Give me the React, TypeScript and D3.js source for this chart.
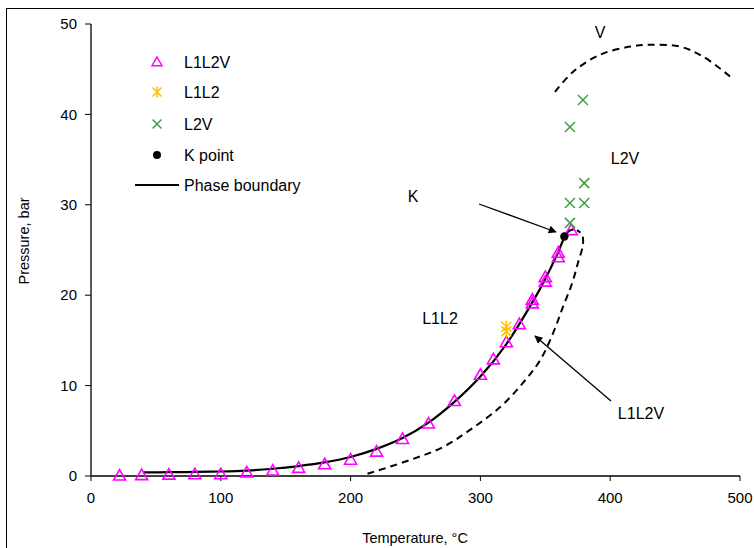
import React from "react";
import * as d3 from "d3";

const xTicks = [0, 100, 200, 300, 400, 500];
const yTicks = [0, 10, 20, 30, 40, 50];

const l1l2vPoints: [number, number][] = [
  [22, 0.05], [39, 0.1], [60, 0.15], [80, 0.2], [100, 0.2], [120, 0.4], [140, 0.6],
  [160, 0.9], [180, 1.3], [200, 1.8], [220, 2.7], [240, 4.1], [260, 5.8], [280, 8.3],
  [300, 11.2], [310, 12.9], [320, 14.8], [330, 16.8], [340, 19.1], [340, 19.5],
  [350, 21.5], [350, 22.0], [360, 24.2], [360, 24.7], [370, 27.2],
];
const l1l2Points: [number, number][] = [[320, 16.0], [320, 16.5]];
const l2vPoints: [number, number][] = [
  [379, 41.6], [369, 38.6], [380, 32.4], [369, 30.2], [380, 30.2], [369, 28.0],
];
const kPoint: [number, number][] = [[364.7, 26.5]];

const phaseBoundary: [number, number][] = [
  [40, 0.4], [60, 0.42], [80, 0.45], [100, 0.5], [120, 0.6], [140, 0.8], [160, 1.1],
  [180, 1.5], [200, 2.1], [220, 3.0], [240, 4.2], [260, 5.9], [280, 8.2], [300, 11.0],
  [320, 14.6], [340, 19.2], [350, 21.8], [360, 24.8], [365, 26.5], [368, 27.1], [372, 27.3],
];
const l1l2vBoundary: [number, number][] = [
  [213, 0.25], [245.8, 1.77], [271.2, 3.2], [292, 5.1], [315, 7.6], [332.8, 10.3],
  [346, 12.8], [356, 15.8], [363.6, 18.7], [370.6, 21.3], [375.2, 23.6], [379, 25.6],
  [378.3, 26.7], [374.4, 27.2],
];
const vBoundary: [number, number][] = [
  [357.5, 42.5], [371.3, 44.7], [392.1, 46.6], [415.3, 47.5], [430.7, 47.7], [453.8, 47.5],
  [471.5, 46.4], [492.3, 44.2],
];

const legendItems = ["L1L2V", "L1L2", "L2V", "K point", "Phase boundary"];

const FONT = "'Liberation Sans', Arial, sans-serif";
const MAGENTA = "#ff00ff";
const GOLD = "#ffc000";
const GREEN = "#3f9f3f";

export default function App() {
  const x = d3.scaleLinear().domain([0, 500]).range([91, 740]);
  const y = d3.scaleLinear().domain([0, 50]).range([476, 24]);
  const line = d3.line<[number, number]>().x((d) => x(d[0])).y((d) => y(d[1])).curve(d3.curveCatmullRom);

  const tri = (cx: number, cy: number, s = 6) =>
    `M${cx},${cy - s} L${cx + s},${cy + s * 0.75} L${cx - s},${cy + s * 0.75} Z`;
  const cross = (cx: number, cy: number, s = 5) =>
    `M${cx - s},${cy - s} L${cx + s},${cy + s} M${cx - s},${cy + s} L${cx + s},${cy - s}`;
  const star = (cx: number, cy: number, s = 5) =>
    `M${cx - s},${cy - s} L${cx + s},${cy + s} M${cx - s},${cy + s} L${cx + s},${cy - s} M${cx},${cy - s * 1.2} L${cx},${cy + s * 1.2}`;

  const legendY = [62, 92, 124, 155, 185];

  return (
    <svg width={754} height={548} style={{ position: "absolute", left: 0, top: 0 }} fontFamily={FONT}>
      <defs>
        <marker id="arr" viewBox="0 0 10 10" refX="9" refY="5" markerWidth="10" markerHeight="8" orient="auto" markerUnits="userSpaceOnUse">
          <path d="M0,0 L10,5 L0,10 Z" fill="#000" />
        </marker>
      </defs>
      <rect x={0} y={0} width={754} height={548} fill="#fff" />
      <rect x={6.5} y={8.5} width={900} height={700} fill="none" stroke="#000" strokeWidth={1} />

      {/* axes */}
      <line x1={91} x2={91} y1={24} y2={476} stroke="#000" strokeWidth={1.3} />
      <line x1={91} x2={740} y1={476} y2={476} stroke="#000" strokeWidth={1.3} />
      {yTicks.map((t) => (
        <g key={"y" + t}>
          <line x1={85} x2={91} y1={y(t)} y2={y(t)} stroke="#000" />
          <text x={77} y={y(t)} dy="0.35em" textAnchor="end" fontSize={15} fill="#000">{t}</text>
        </g>
      ))}
      {xTicks.map((t) => (
        <g key={"x" + t}>
          <line x1={x(t)} x2={x(t)} y1={476} y2={481} stroke="#000" />
          <text x={x(t)} y={503} textAnchor="middle" fontSize={15} fill="#000">{t}</text>
        </g>
      ))}
      <text x={415} y={543} textAnchor="middle" fontSize={14.5} fill="#000">Temperature, °C</text>
      <text transform="translate(29,241) rotate(-90)" textAnchor="middle" fontSize={14.5} fill="#000">Pressure, bar</text>

      {/* curves */}
      <path d={line(vBoundary) || ""} fill="none" stroke="#000" strokeWidth={2} strokeDasharray="7,5" />
      <path d={line(l1l2vBoundary) || ""} fill="none" stroke="#000" strokeWidth={2} strokeDasharray="7,5" />
      <path d={line(phaseBoundary) || ""} fill="none" stroke="#000" strokeWidth={2.2} />

      {/* markers */}
      {l1l2vPoints.map((d, i) => (
        <path key={"t" + i} d={tri(x(d[0]), y(d[1]))} fill="none" stroke={MAGENTA} strokeWidth={1.6} />
      ))}
      {l1l2Points.map((d, i) => (
        <path key={"s" + i} d={star(x(d[0]), y(d[1]))} fill="none" stroke={GOLD} strokeWidth={1.5} />
      ))}
      {l2vPoints.map((d, i) => (
        <path key={"c" + i} d={cross(x(d[0]), y(d[1]))} fill="none" stroke={GREEN} strokeWidth={1.5} />
      ))}
      {kPoint.map((d, i) => (
        <circle key={"k" + i} cx={x(d[0])} cy={y(d[1])} r={4.2} fill="#000" />
      ))}

      {/* annotations */}
      <text x={600} y={38} textAnchor="middle" fontSize={16} fill="#000">V</text>
      <text x={625} y={164} textAnchor="middle" fontSize={16} fill="#000">L2V</text>
      <text x={413} y={202} textAnchor="middle" fontSize={16} fill="#000">K</text>
      <text x={440} y={324} textAnchor="middle" fontSize={16} fill="#000">L1L2</text>
      <text x={641} y={419} textAnchor="middle" fontSize={16} fill="#000">L1L2V</text>
      <line x1={479} y1={204} x2={556} y2={232} stroke="#000" strokeWidth={1.3} markerEnd="url(#arr)" />
      <line x1={611} y1={401} x2={535} y2={336} stroke="#000" strokeWidth={1.3} markerEnd="url(#arr)" />

      {/* legend */}
      <path d={tri(157, legendY[0], 5)} fill="none" stroke={MAGENTA} strokeWidth={1.5} />
      <path d={star(157, legendY[1], 4.5)} fill="none" stroke={GOLD} strokeWidth={1.5} />
      <path d={cross(157, legendY[2], 4.5)} fill="none" stroke={GREEN} strokeWidth={1.5} />
      <circle cx={157} cy={legendY[3]} r={4} fill="#000" />
      <line x1={135} x2={179} y1={legendY[4]} y2={legendY[4]} stroke="#000" strokeWidth={2.2} />
      {legendItems.map((t, i) => (
        <text key={t} x={184} y={legendY[i]} dy="0.35em" fontSize={16} fill="#000">{t}</text>
      ))}
    </svg>
  );
}
